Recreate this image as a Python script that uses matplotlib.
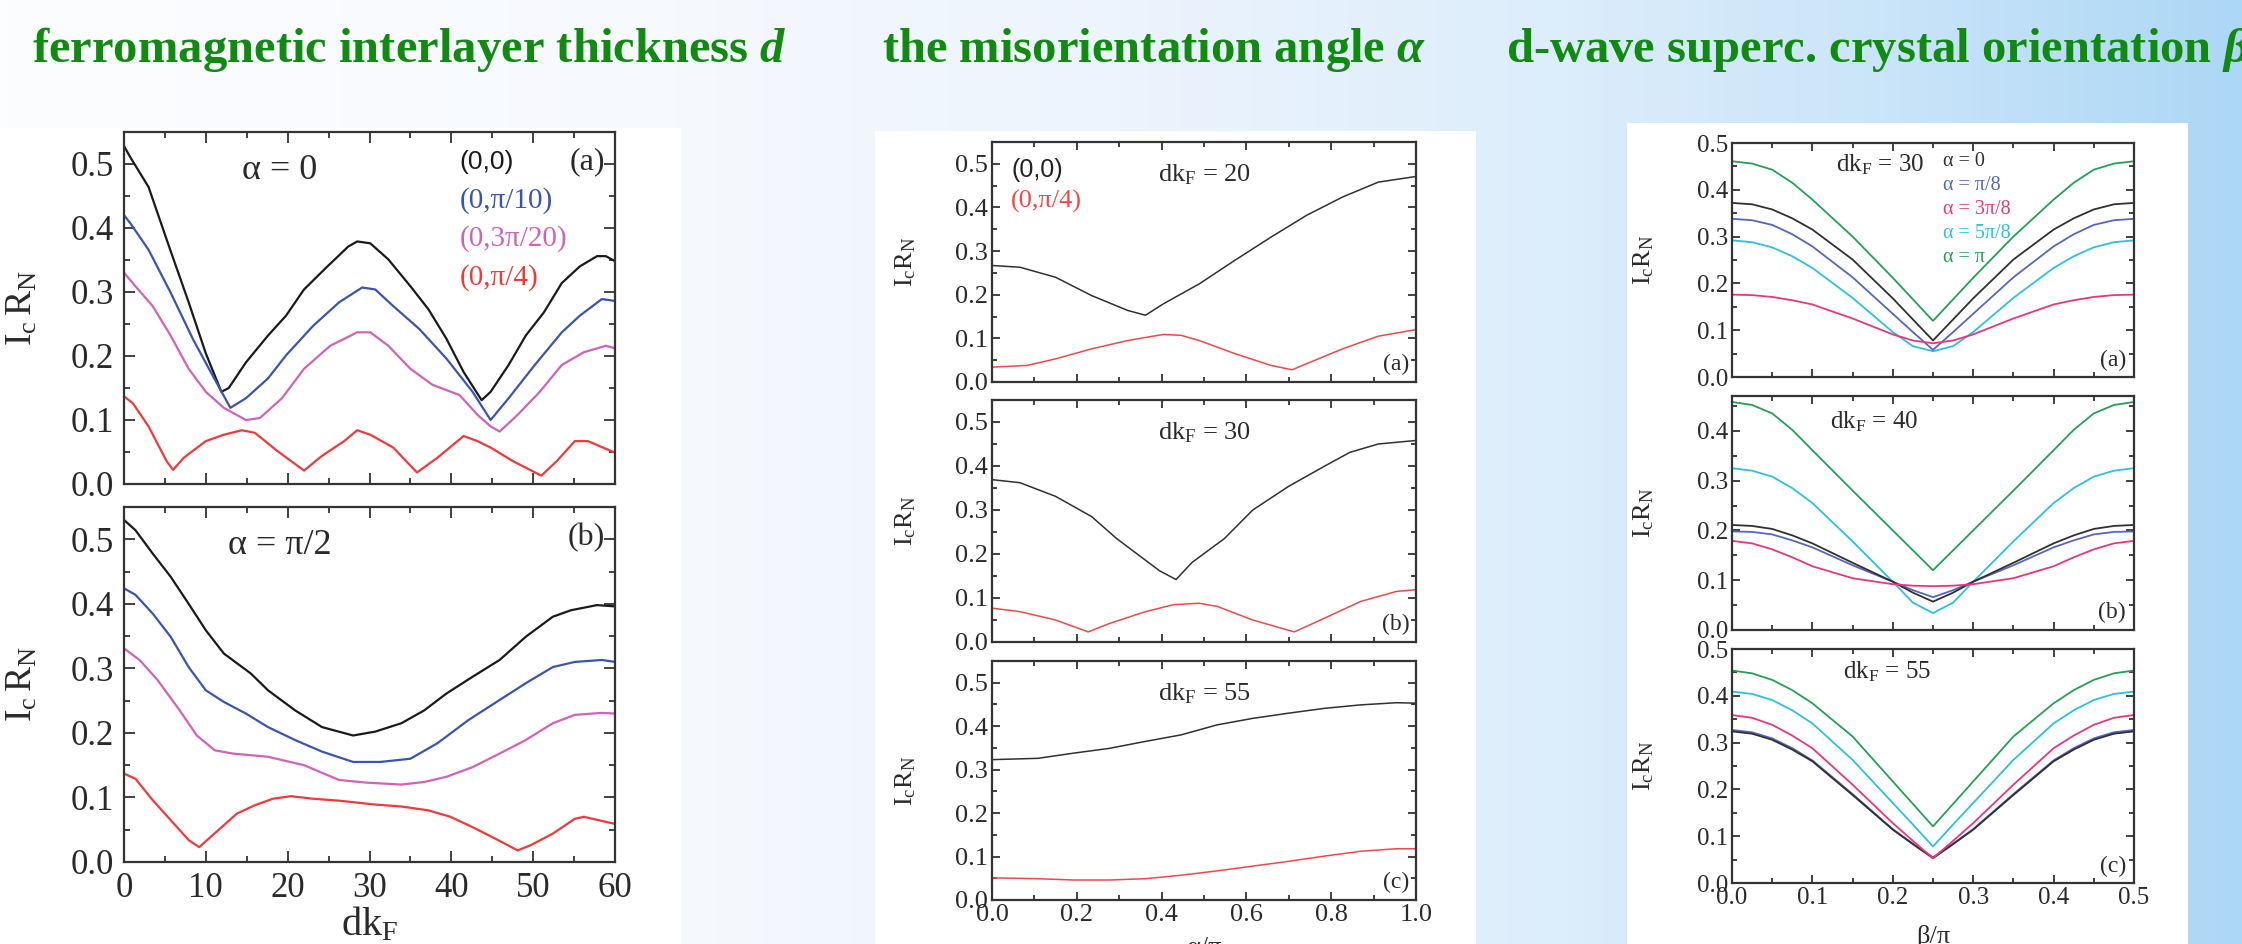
import numpy as np
import matplotlib
matplotlib.use('Agg')
import matplotlib.pyplot as plt
from matplotlib.colors import LinearSegmentedColormap
from matplotlib.patches import Rectangle
from matplotlib.ticker import MultipleLocator

plt.rcParams['font.family'] = ['Liberation Serif', 'DejaVu Serif']
plt.rcParams['mathtext.fontset'] = 'custom'
plt.rcParams['mathtext.rm'] = 'Liberation Serif'
plt.rcParams['mathtext.it'] = 'Liberation Serif:italic:bold'
plt.rcParams['mathtext.bf'] = 'Liberation Serif:bold'

# ---- left block: IcRN vs dkF ----
d_a_00 = [0, 0.8, 3.0, 5.7, 7.9, 10.0, 11.9, 12.8, 14.9, 17.6, 19.8, 22.0, 24.7, 27.4, 28.5, 30.1,
          32.3, 35.0, 37.2, 39.4, 41.5, 43.7, 44.8, 47.0, 49.1, 51.3, 53.5, 55.7, 57.8, 58.9, 60]
ic_a_00 = [0.528, 0.51, 0.464, 0.364, 0.284, 0.204, 0.144, 0.15, 0.19, 0.232, 0.263, 0.304, 0.338, 0.371,
           0.379, 0.376, 0.351, 0.309, 0.273, 0.227, 0.175, 0.131, 0.144, 0.186, 0.232, 0.268, 0.314,
           0.34, 0.356, 0.356, 0.348]
d_a_10 = [0, 0.8, 3.0, 5.7, 8.4, 10.6, 13.0, 14.9, 17.6, 19.8, 23.1, 26.3, 29.1, 30.7, 32.9, 36.1,
          39.4, 42.6, 44.8, 47.0, 50.2, 53.5, 55.7, 58.4, 60]
ic_a_10 = [0.42, 0.407, 0.366, 0.299, 0.227, 0.175, 0.119, 0.134, 0.165, 0.201, 0.247, 0.284, 0.307,
           0.304, 0.278, 0.242, 0.196, 0.144, 0.10, 0.134, 0.186, 0.237, 0.263, 0.289, 0.286]
d_a_20 = [0, 1.4, 3.5, 5.7, 7.9, 10.0, 12.2, 14.9, 16.6, 19.3, 22.0, 25.2, 28.5, 30.1, 32.3, 35.0,
          37.7, 41.0, 43.2, 44.8, 45.9, 48.1, 50.8, 53.5, 56.2, 58.9, 60]
ic_a_20 = [0.33, 0.309, 0.278, 0.232, 0.18, 0.144, 0.119, 0.10, 0.103, 0.134, 0.18, 0.216, 0.237, 0.237,
           0.216, 0.18, 0.155, 0.139, 0.108, 0.09, 0.082, 0.108, 0.144, 0.186, 0.206, 0.216, 0.212]
d_a_4 = [0, 1.1, 3.0, 5.2, 6.0, 7.3, 10.0, 12.2, 14.4, 16.0, 18.7, 22.0, 24.2, 26.9, 28.5, 30.1,
         32.9, 35.8, 38.3, 41.5, 43.2, 44.8, 47.5, 51.0, 52.9, 55.1, 56.7, 60]
ic_a_4 = [0.137, 0.126, 0.09, 0.036, 0.022, 0.041, 0.067, 0.077, 0.084, 0.08, 0.052, 0.021, 0.044,
          0.067, 0.084, 0.077, 0.057, 0.018, 0.041, 0.075, 0.067, 0.057, 0.036, 0.013, 0.036, 0.067,
          0.067, 0.049]

d_b_00 = [0, 1.4, 3.5, 5.7, 7.9, 10.0, 12.2, 15.5, 17.6, 20.9, 24.2, 28.0, 30.7, 33.9, 36.7, 39.4,
          42.6, 45.9, 49.1, 52.4, 54.6, 57.8, 60]
ic_b_00 = [0.53, 0.514, 0.478, 0.442, 0.40, 0.359, 0.323, 0.292, 0.266, 0.235, 0.209, 0.196, 0.202,
           0.215, 0.235, 0.261, 0.287, 0.313, 0.349, 0.38, 0.39, 0.398, 0.396]
d_b_10 = [0, 1.4, 3.5, 5.7, 7.9, 10.0, 12.2, 14.9, 17.6, 20.9, 24.2, 28.0, 31.3, 35.0, 38.3, 42.1,
          45.9, 49.1, 52.4, 55.1, 58.4, 60]
ic_b_10 = [0.424, 0.414, 0.385, 0.349, 0.302, 0.266, 0.248, 0.23, 0.209, 0.189, 0.171, 0.155, 0.155,
           0.16, 0.184, 0.22, 0.251, 0.277, 0.302, 0.31, 0.313, 0.31]
d_b_20 = [0, 1.9, 4.1, 6.8, 8.9, 11.1, 13.3, 17.6, 22.0, 26.3, 29.6, 33.9, 36.7, 39.4, 42.6, 45.9,
          49.1, 52.4, 55.1, 58.4, 60]
ic_b_20 = [0.331, 0.313, 0.282, 0.235, 0.196, 0.173, 0.168, 0.163, 0.15, 0.127, 0.123, 0.12, 0.124,
           0.132, 0.147, 0.168, 0.189, 0.215, 0.228, 0.231, 0.23]
d_b_4 = [0, 1.4, 3.5, 5.7, 7.9, 9.2, 10.6, 13.8, 16.0, 18.2, 20.4, 23.1, 26.3, 30.7, 33.9, 37.2,
         39.9, 42.6, 45.4, 48.1, 49.7, 52.4, 55.1, 56.2, 60]
ic_b_4 = [0.137, 0.129, 0.096, 0.065, 0.034, 0.023, 0.039, 0.075, 0.088, 0.098, 0.102, 0.098, 0.095,
          0.089, 0.086, 0.08, 0.07, 0.054, 0.036, 0.018, 0.026, 0.044, 0.067, 0.07, 0.059]

left_labels = ['(0,0)', '(0,π/10)', '(0,3π/20)', '(0,π/4)']

# ---- middle block: IcRN vs alpha/pi ----
al_a_00 = [0, 0.066, 0.15, 0.235, 0.32, 0.362, 0.404, 0.489, 0.573, 0.658, 0.742, 0.827, 0.911, 1.0]
ic_ma_00 = [0.267, 0.263, 0.24, 0.198, 0.164, 0.153, 0.179, 0.225, 0.279, 0.332, 0.382, 0.424, 0.458, 0.471]
al_a_4 = [0, 0.083, 0.15, 0.235, 0.32, 0.404, 0.446, 0.489, 0.573, 0.658, 0.708, 0.742, 0.827, 0.911, 1.0]
ic_ma_4 = [0.034, 0.038, 0.053, 0.076, 0.095, 0.109, 0.107, 0.095, 0.065, 0.038, 0.028, 0.042, 0.076,
           0.105, 0.12]
al_b_00 = [0, 0.066, 0.15, 0.235, 0.294, 0.395, 0.434, 0.472, 0.548, 0.615, 0.7, 0.785, 0.844, 0.911, 1.0]
ic_mb_00 = [0.369, 0.362, 0.331, 0.285, 0.235, 0.162, 0.142, 0.181, 0.235, 0.3, 0.354, 0.4, 0.431,
            0.45, 0.458]
al_b_4 = [0, 0.066, 0.15, 0.227, 0.277, 0.362, 0.429, 0.489, 0.531, 0.615, 0.713, 0.784, 0.869, 0.954, 1.0]
ic_mb_4 = [0.077, 0.069, 0.05, 0.023, 0.042, 0.069, 0.085, 0.088, 0.081, 0.05, 0.023, 0.054, 0.092,
           0.115, 0.119]
al_c = [0, 0.108, 0.193, 0.277, 0.362, 0.446, 0.531, 0.615, 0.7, 0.784, 0.869, 0.954, 1.0]
ic_mc_00 = [0.323, 0.326, 0.338, 0.349, 0.365, 0.38, 0.403, 0.418, 0.43, 0.441, 0.449, 0.454, 0.453]
ic_mc_4 = [0.051, 0.049, 0.046, 0.046, 0.049, 0.057, 0.067, 0.078, 0.089, 0.101, 0.112, 0.118, 0.118]
mid_dkf = [20, 30, 55]

# ---- right block: IcRN vs beta/pi ----
beta = [0, 0.025, 0.05, 0.075, 0.1, 0.15, 0.2, 0.225, 0.25, 0.275, 0.3, 0.35, 0.4, 0.425, 0.45, 0.475, 0.5]
r_a = {
    'α = 0':    [0.372, 0.369, 0.358, 0.339, 0.315, 0.251, 0.168, 0.123, 0.078, 0.123, 0.168, 0.251, 0.315, 0.339, 0.358, 0.369, 0.372],
    'α = π/8':  [0.338, 0.335, 0.325, 0.305, 0.279, 0.213, 0.135, 0.096, 0.058, 0.096, 0.135, 0.213, 0.279, 0.305, 0.325, 0.335, 0.338],
    'α = 3π/8': [0.176, 0.175, 0.171, 0.164, 0.155, 0.125, 0.091, 0.078, 0.072, 0.078, 0.091, 0.125, 0.155, 0.164, 0.171, 0.175, 0.176],
    'α = 5π/8': [0.292, 0.288, 0.277, 0.258, 0.233, 0.169, 0.096, 0.066, 0.055, 0.066, 0.096, 0.169, 0.233, 0.258, 0.277, 0.288, 0.292],
    'α = π':    [0.461, 0.456, 0.443, 0.415, 0.379, 0.300, 0.212, 0.166, 0.120, 0.166, 0.212, 0.300, 0.379, 0.415, 0.443, 0.456, 0.461],
}
r_b = {
    'α = 0':    [0.211, 0.209, 0.203, 0.19, 0.174, 0.135, 0.097, 0.075, 0.057, 0.075, 0.097, 0.135, 0.174, 0.19, 0.203, 0.209, 0.211],
    'α = π/8':  [0.198, 0.197, 0.192, 0.18, 0.166, 0.13, 0.097, 0.08, 0.066, 0.08, 0.097, 0.13, 0.166, 0.18, 0.192, 0.197, 0.198],
    'α = 3π/8': [0.179, 0.174, 0.162, 0.146, 0.128, 0.104, 0.092, 0.089, 0.088, 0.089, 0.092, 0.104, 0.128, 0.146, 0.162, 0.174, 0.179],
    'α = 5π/8': [0.325, 0.32, 0.308, 0.285, 0.255, 0.178, 0.097, 0.055, 0.034, 0.055, 0.097, 0.178, 0.255, 0.285, 0.308, 0.32, 0.325],
    'α = π':    [0.458, 0.452, 0.435, 0.402, 0.361, 0.28, 0.2, 0.16, 0.12, 0.16, 0.2, 0.28, 0.361, 0.402, 0.435, 0.452, 0.458],
}
r_c = {
    'α = 0':    [0.324, 0.319, 0.306, 0.285, 0.26, 0.188, 0.114, 0.083, 0.053, 0.083, 0.114, 0.188, 0.26, 0.285, 0.306, 0.319, 0.324],
    'α = π/8':  [0.327, 0.322, 0.309, 0.288, 0.262, 0.19, 0.115, 0.084, 0.055, 0.084, 0.115, 0.19, 0.262, 0.288, 0.309, 0.322, 0.327],
    'α = 3π/8': [0.359, 0.353, 0.338, 0.315, 0.288, 0.21, 0.128, 0.09, 0.053, 0.09, 0.128, 0.21, 0.288, 0.315, 0.338, 0.353, 0.359],
    'α = 5π/8': [0.409, 0.404, 0.391, 0.369, 0.341, 0.263, 0.171, 0.125, 0.078, 0.125, 0.171, 0.263, 0.341, 0.369, 0.391, 0.404, 0.409],
    'α = π':    [0.454, 0.448, 0.434, 0.412, 0.384, 0.313, 0.217, 0.169, 0.121, 0.169, 0.217, 0.313, 0.384, 0.412, 0.434, 0.448, 0.454],
}
right_dkf = [30, 40, 55]

titles = ['ferromagnetic interlayer thickness $d$',
          'the misorientation angle $\\alpha$',
          'd-wave superc. crystal orientation $\\beta$']

W, H = 2242, 944
fig = plt.figure(figsize=(W / 100, H / 100), dpi=100)


def frame(x0, x1, y0, y1):
    # pixel box -> figure fraction
    return [x0 / W, 1 - y1 / H, (x1 - x0) / W, (y1 - y0) / H]


# background: white-to-sky-blue wash with white cards behind each block
bg = fig.add_axes([0, 0, 1, 1], zorder=-10)
wash = LinearSegmentedColormap.from_list('wash', [
    (0.0, '#fcfdff'), (0.3, '#f6f9fe'), (0.5, '#ecf4fd'), (0.7, '#dcedfb'),
    (0.85, '#c9e4f9'), (1.0, '#acd7f5')])
bg.imshow(np.linspace(0, 1, 512)[None, :], aspect='auto', cmap=wash, extent=[0, 1, 0, 1])
for x0, x1, y0 in [(0, 681, 128), (875, 1476, 131), (1627, 2188, 123)]:
    bg.add_patch(Rectangle((x0 / W, 0), (x1 - x0) / W, 1 - y0 / H, facecolor='white',
                           edgecolor='none', transform=bg.transAxes))
bg.set_xlim(0, 1)
bg.set_ylim(0, 1)
bg.axis('off')

for txt, x in zip(titles, [32, 882, 1506]):
    fig.text(x / W, 1 - 50 / H, txt, fontsize=35, fontweight='bold', color='#118a11',
             va='center', ha='left')


def style(ax, xlim, ylim, xmaj, xmin, ymaj, ymin, size, ticklen, pad, show_x):
    ax.set_xlim(*xlim)
    ax.set_ylim(*ylim)
    ax.xaxis.set_major_locator(MultipleLocator(xmaj))
    ax.xaxis.set_minor_locator(MultipleLocator(xmin))
    ax.yaxis.set_major_locator(MultipleLocator(ymaj))
    ax.yaxis.set_minor_locator(MultipleLocator(ymin))
    ax.tick_params(which='both', direction='in', top=True, right=True, width=1.3,
                   color='#333333', labelsize=size, labelcolor='#2a2a2a', pad=pad)
    ax.tick_params(which='major', length=ticklen)
    ax.tick_params(which='minor', length=ticklen * 0.55)
    if not show_x:
        ax.tick_params(labelbottom=False)
    for s in ax.spines.values():
        s.set_linewidth(1.6)
        s.set_color('#333333')


# ---- left block ----
left_cols = ['#1a1a1a', '#3a55b0', '#d062b8', '#f03a3a']
ax_la = fig.add_axes(frame(124, 615, 132, 484))
ax_lb = fig.add_axes(frame(124, 615, 507, 862))
for ax, series, note, tag, show in [
        (ax_la, [(d_a_00, ic_a_00), (d_a_10, ic_a_10), (d_a_20, ic_a_20), (d_a_4, ic_a_4)],
         'α = 0', '(a)', False),
        (ax_lb, [(d_b_00, ic_b_00), (d_b_10, ic_b_10), (d_b_20, ic_b_20), (d_b_4, ic_b_4)],
         'α = π/2', '(b)', True)]:
    for (x, y), c in zip(series, left_cols):
        ax.plot(x, y, color=c, lw=1.6)
    style(ax, (0, 60), (0, 0.55), 10, 5, 0.1, 0.05, 25, 8, 7, show)
    ax.set_ylabel(r'$\mathrm{I_c\,R_N}$', fontsize=27, color='#2a2a2a')
    ax.yaxis.set_label_coords(-0.172, 0.5)
    ax.text(19, 0.49, note, fontsize=26, ha='center', va='center', color='#2a2a2a')
    ax.text(58.8, 0.503, tag, fontsize=23, ha='right', va='center', color='#2a2a2a')
for i, (lab, c) in enumerate(zip(left_labels, left_cols)):
    fam = 'Liberation Sans' if i == 0 else None
    ax_la.text(41, 0.503 - 0.06 * i, lab, fontsize=21 if i else 19, color=c, ha='left',
               va='center', family=fam)
ax_lb.set_xlabel(r'$\mathrm{dk_F}$', fontsize=29, color='#2a2a2a')
ax_lb.xaxis.set_label_coords(0.5, -0.178)
ax_lb.xaxis.label.set_va('center')

# ---- middle block ----
mid_boxes = [(142, 382), (400, 642), (661, 900)]
mid_series = [(al_a_00, ic_ma_00, al_a_4, ic_ma_4),
              (al_b_00, ic_mb_00, al_b_4, ic_mb_4),
              (al_c, ic_mc_00, al_c, ic_mc_4)]
mid_axes = []
for k, ((y0, y1), (xb, yb, xr, yr), dk, tag) in enumerate(zip(mid_boxes, mid_series, mid_dkf, 'abc')):
    ax = fig.add_axes(frame(992, 1416, y0, y1))
    ax.plot(xb, yb, color='#303030', lw=1.1)
    ax.plot(xr, yr, color='#f04848', lw=1.1)
    style(ax, (0, 1), (0, 0.55), 0.2, 0.1, 0.1, 0.05, 19, 6, 3, k == 2)
    ax.set_ylabel(r'$\mathrm{I_cR_N}$', fontsize=19, color='#2a2a2a')
    ax.yaxis.set_label_coords(-0.175, 0.5)
    ax.text(0.50, 0.475, r'$\mathrm{dk_F}$ = %d' % dk, fontsize=19, ha='center', va='center',
            color='#2a2a2a')
    ax.text(0.985, 0.04, '(%s)' % tag, fontsize=17, ha='right', va='center', color='#2a2a2a')
    mid_axes.append(ax)
mid_axes[0].text(0.045, 0.486, '(0,0)', fontsize=18, family='Liberation Sans', color='#222222',
                 ha='left', va='center')
mid_axes[0].text(0.045, 0.413, '(0,π/4)', fontsize=19, color='#f04848', ha='left', va='center')
mid_axes[2].set_xlabel('α/π', fontsize=19, color='#2a2a2a')
mid_axes[2].xaxis.set_label_coords(0.5, -0.2)
mid_axes[2].xaxis.label.set_va('center')

# ---- right block ----
right_cols = {'α = 0': '#303030', 'α = π/8': '#5565c0', 'α = 3π/8': '#e8367e',
              'α = 5π/8': '#2cc0e0', 'α = π': '#22a055'}
draw_order = ['α = 5π/8', 'α = π/8', 'α = 0', 'α = 3π/8', 'α = π']
right_boxes = [(143, 377, 0.5), (396, 630, 0.47), (649, 883, 0.5)]
right_dk_pos = [(0.184, 0.453), (0.177, 0.418), (0.193, 0.451)]
right_axes = []
for k, ((y0, y1, top), curves, dk, (tx, ty), tag) in enumerate(
        zip(right_boxes, [r_a, r_b, r_c], right_dkf, right_dk_pos, 'abc')):
    ax = fig.add_axes(frame(1732, 2134, y0, y1))
    for name in draw_order:
        ax.plot(beta, curves[name], color=right_cols[name], lw=1.3)
    style(ax, (0, 0.5), (0, top), 0.1, 0.05, 0.1, 0.05, 18, 6, 3, k == 2)
    ax.set_ylabel(r'$\mathrm{I_cR_N}$', fontsize=19, color='#2a2a2a')
    ax.yaxis.set_label_coords(-0.19, 0.5)
    ax.text(tx, ty, r'$\mathrm{dk_F}$ = %d' % dk, fontsize=18, ha='center', va='center',
            color='#2a2a2a')
    ax.text(0.49, 0.035, '(%s)' % tag, fontsize=17, ha='right', va='center', color='#2a2a2a')
    right_axes.append(ax)
for i, name in enumerate(['α = 0', 'α = π/8', 'α = 3π/8', 'α = 5π/8', 'α = π']):
    right_axes[0].text(0.262, 0.46 - 0.051 * i, name, fontsize=14.5, color=right_cols[name],
                       ha='left', va='center')
right_axes[2].set_xlabel('β/π', fontsize=19, color='#2a2a2a')
right_axes[2].xaxis.set_label_coords(0.5, -0.23)
right_axes[2].xaxis.label.set_va('center')

fig.savefig('out.png', dpi=100)
